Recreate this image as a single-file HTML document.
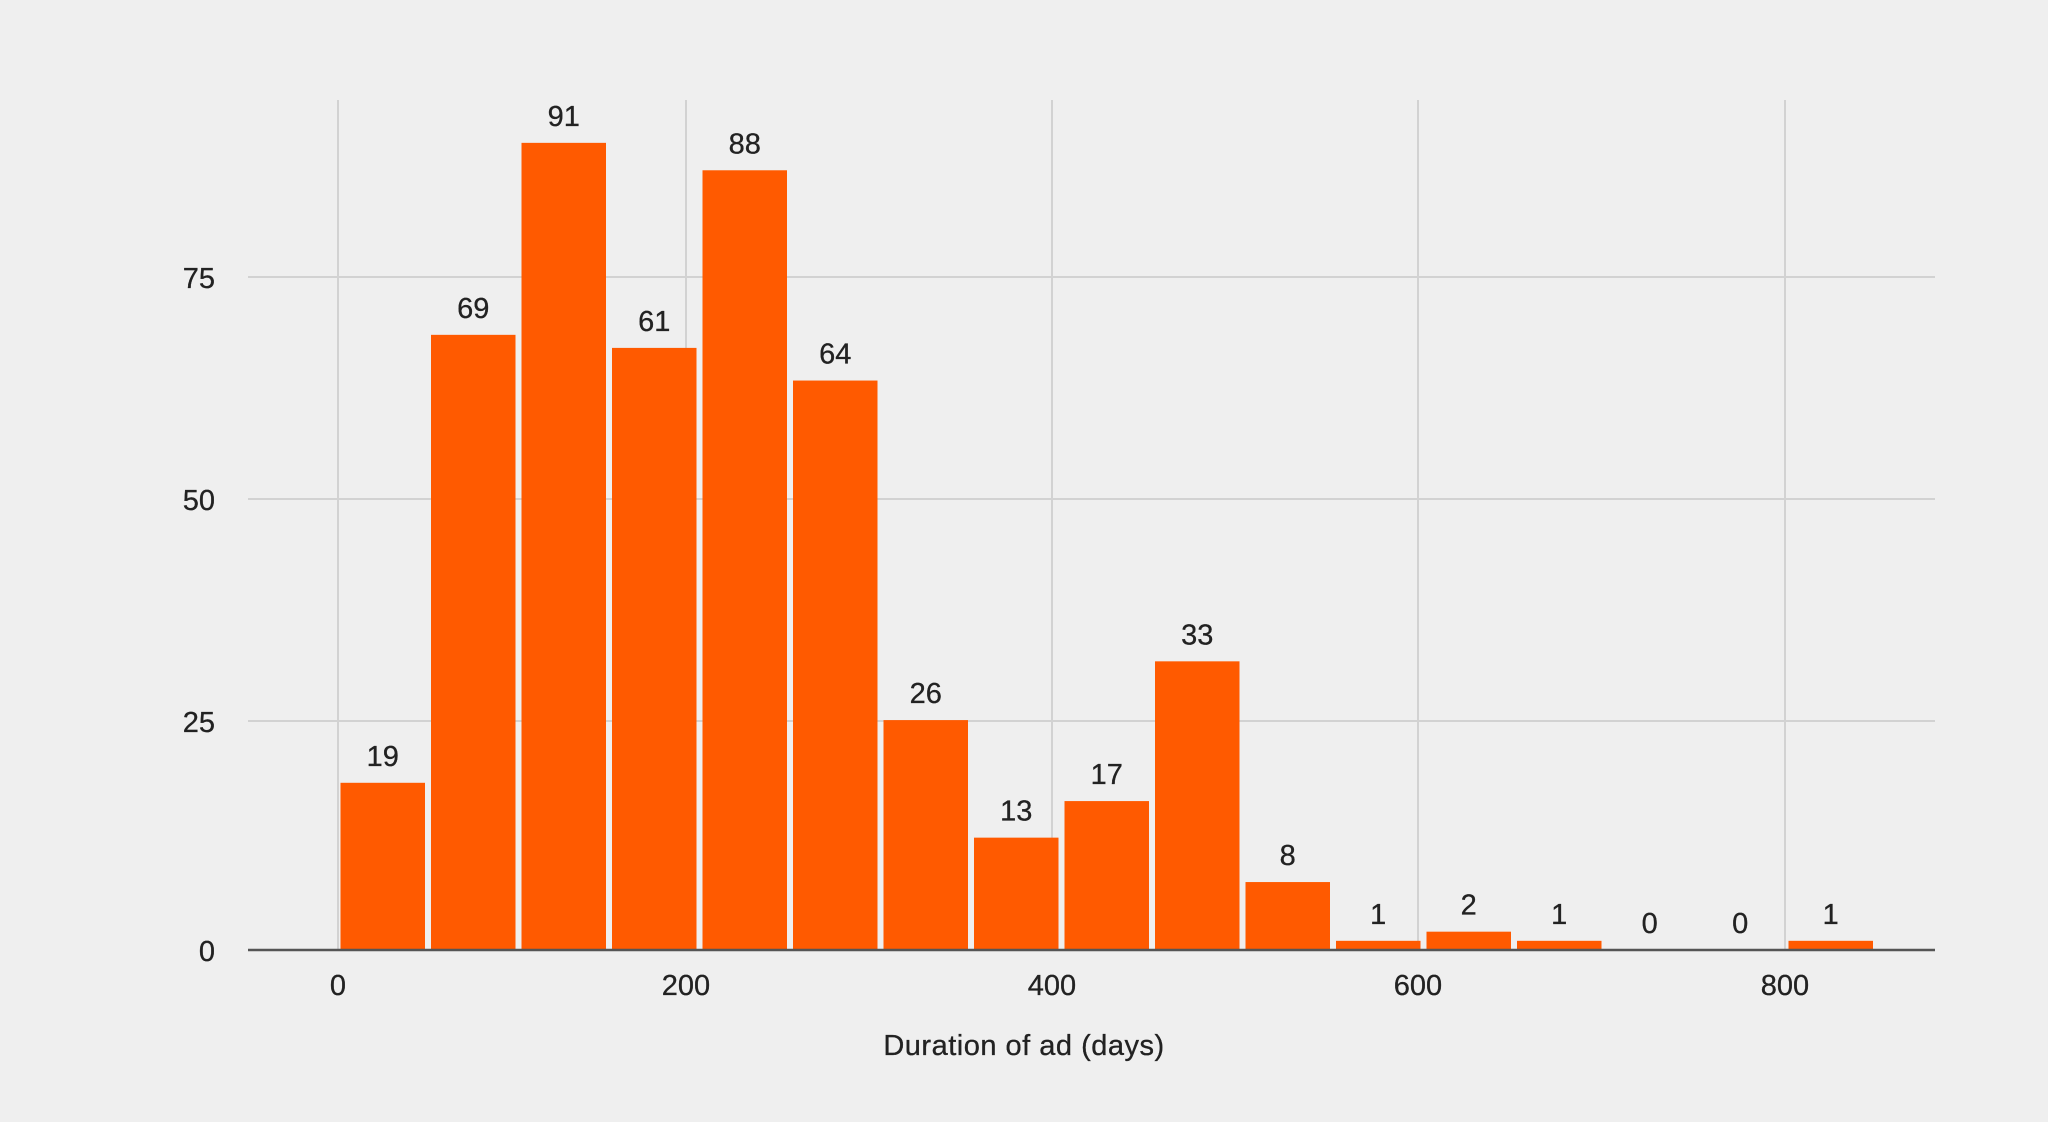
<!DOCTYPE html>
<html><head><meta charset="utf-8"><style>
html,body{margin:0;padding:0;background:#efefef;}
svg{display:block;font-family:"Liberation Sans",sans-serif;}
</style></head><body>
<svg width="2048" height="1122" viewBox="0 0 2048 1122">
<rect width="2048" height="1122" fill="#efefef"/>
<g stroke="#d2d2d2" stroke-width="2">
<line x1="338" y1="100" x2="338" y2="950"/>
<line x1="686" y1="100" x2="686" y2="950"/>
<line x1="1052" y1="100" x2="1052" y2="950"/>
<line x1="1418" y1="100" x2="1418" y2="950"/>
<line x1="1785" y1="100" x2="1785" y2="950"/>
<line x1="248" y1="277" x2="1935" y2="277"/>
<line x1="248" y1="499" x2="1935" y2="499"/>
<line x1="248" y1="721" x2="1935" y2="721"/>
</g>
<g id="bars" fill="#ff5a00"></g>
<g id="lbl" font-size="29" fill="#222" stroke="#222" stroke-width="0.3" text-anchor="middle"></g>
<line x1="248" y1="950" x2="1935" y2="950" stroke="#555" stroke-width="2.5"/>
<g font-size="29" fill="#222" stroke="#222" stroke-width="0.3" text-anchor="end">
<text x="215" y="288">75</text>
<text x="215" y="510">50</text>
<text x="215" y="732">25</text>
<text x="215" y="961">0</text>
</g>
<g font-size="29" fill="#222" stroke="#222" stroke-width="0.3" text-anchor="middle">
<text x="338" y="995">0</text>
<text x="686" y="995">200</text>
<text x="1052" y="995">400</text>
<text x="1418" y="995">600</text>
<text x="1785" y="995">800</text>
<text x="1024" y="1055" letter-spacing="0.5">Duration of ad (days)</text>
</g>
<script>
var v=[19,69,91,61,88,64,26,13,17,33,8,1,2,1,0,0,1];
var tops=[599,256,109,266,130,291,551,641,613,506,675,720,713,720,727,727,720];
var b=document.getElementById('bars'),l=document.getElementById('lbl'),ns='http://www.w3.org/2000/svg';
v.forEach(function(d,i){
 var x=340.5+i*90.5,w=84.5,y=tops[i]*1.306+0.5,h=950-y;
 if(h>1){var r=document.createElementNS(ns,'rect');r.setAttribute('x',x);r.setAttribute('y',y);r.setAttribute('width',w);r.setAttribute('height',h);b.appendChild(r);}
 var t=document.createElementNS(ns,'text');t.setAttribute('x',x+w/2);t.setAttribute('y',y-17);t.textContent=d;l.appendChild(t);
});
</script>
</svg>
</body></html>
